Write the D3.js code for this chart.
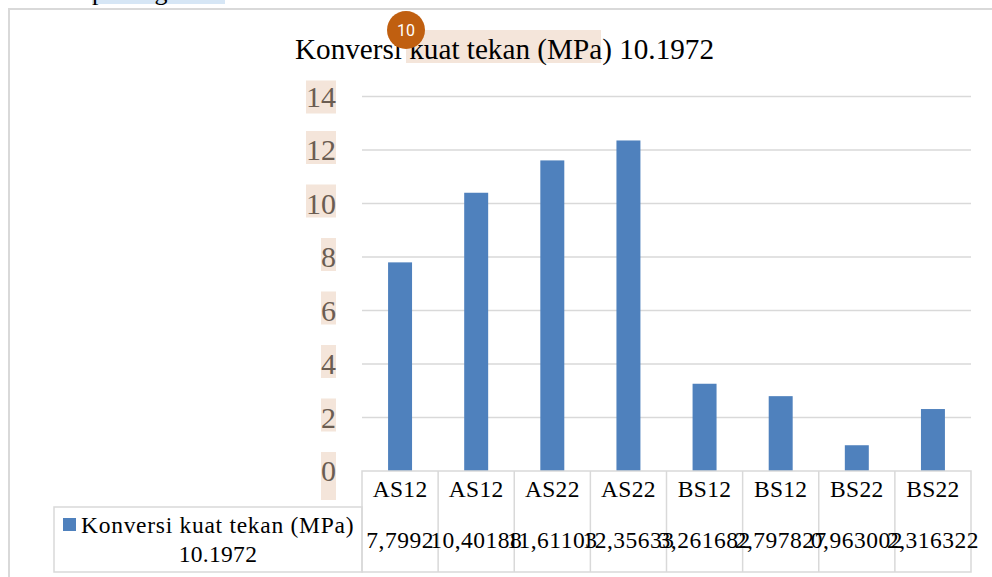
<!DOCTYPE html>
<html>
<head>
<meta charset="utf-8">
<script src="https://cdnjs.cloudflare.com/ajax/libs/d3/7.8.5/d3.min.js"></script>
<style>
	html, body { margin: 0; padding: 0; background: #fff; }
	svg { display: block; }
	text { font-family: "Liberation Serif", serif; }
</style>
</head>
<body>
<div id="chart"></div>
<script>
const categories = ["AS12", "AS12", "AS22", "AS22", "BS12", "BS12", "BS22", "BS22"];
const values = [7.7992, 10.40188, 11.61103, 12.35633, 3.261682, 2.797827, 0.963002, 2.316322];
const valueLabels = ["7,7992", "10,40188", "11,61103", "12,35633", "3,261682", "2,797827", "0,963002", "2,316322"];
const yTicks = [0, 2, 4, 6, 8, 10, 12, 14];
const title = "Konversi kuat tekan (MPa) 10.1972";
const legendLines = ["Konversi kuat tekan (MPa)", "10.1972"];

const width = 992, height = 577;
const gridColor = "#d9d9d9", barColor = "#4f81bd", markColor = "#f4e5da";

const svg = d3.select("#chart").append("svg")
	.attr("width", width).attr("height", height);

// cut off line of page text above the chart
svg.append("rect").attr("x", 92).attr("y", 0).attr("width", 133).attr("height", 4).attr("fill", "#d6e6f5");
svg.append("text").attr("x", 92).attr("y", 0)
	.style("font-size", "26px").style("word-spacing", "7px")
	.text("pada gambar");

// chart frame runs past the right and bottom of the screenshot
svg.append("rect").attr("x", 9).attr("y", 9).attr("width", 1000).attr("height", 600)
	.attr("fill", "#fff").attr("stroke", gridColor).attr("stroke-width", 2);

// Scales
const scaleX = d3.scaleBand(d3.range(categories.length), [362, 971])
	.paddingInner(0.685).paddingOuter(0.3425);
const scaleY = d3.scaleLinear([0, 14], [471, 96.5]);
const step = scaleX.step();

// Highlighted title
svg.append("rect").attr("x", 406).attr("y", 30).attr("width", 195).attr("height", 33).attr("fill", markColor);
svg.append("text").attr("x", 504.5).attr("y", 59)
	.attr("text-anchor", "middle").style("font-size", "29.2px").attr("fill", "#000")
	.text(title);

// Gridlines
svg.append("g").selectAll("line").data(yTicks.slice(1)).join("line")
	.attr("x1", 362).attr("x2", 971)
	.attr("y1", (d) => scaleY(d)).attr("y2", (d) => scaleY(d))
	.attr("stroke", gridColor).attr("stroke-width", 1.5);

// Y axis, the highlight boxes sit a bit above the digits except on the ends
const axisY = svg.append("g").attr("transform", "translate(336, 0)")
	.call(d3.axisLeft(scaleY).tickValues(yTicks).tickSize(0).tickPadding(0).tickFormat(d3.format("d")));
axisY.select(".domain").remove();
axisY.selectAll("text")
	.style("font-family", '"Liberation Serif", serif').style("font-size", "30px").attr("fill", "#6b5d52");
axisY.selectAll(".tick").each(function (d) {
	const box = this.querySelector("text").getBBox();
	d3.select(this).insert("rect", "text")
		.attr("x", box.x).attr("y", d === 14 ? -16.5 : -19.5)
		.attr("width", box.width).attr("height", d === 0 ? 48 : 33)
		.attr("fill", markColor);
});

// Bars
svg.append("g").selectAll("rect").data(values).join("rect")
	.attr("x", (d, i) => scaleX(i))
	.attr("y", (d) => scaleY(d))
	.attr("width", scaleX.bandwidth())
	.attr("height", (d) => scaleY(0) - scaleY(d))
	.attr("fill", barColor);

// Data table
const rowTop = 471, rowMid = 507, rowBottom = 572, legendLeft = 54;
const table = svg.append("g").attr("fill", "none").attr("stroke", gridColor).attr("stroke-width", 1.5);
table.append("rect").attr("x", 362).attr("y", rowTop).attr("width", 609).attr("height", rowBottom - rowTop);
table.append("rect").attr("x", legendLeft).attr("y", rowMid).attr("width", 362 - legendLeft).attr("height", rowBottom - rowMid);
table.selectAll("line.col").data(d3.range(1, categories.length)).join("line")
	.attr("x1", (i) => 362 + i * step).attr("x2", (i) => 362 + i * step)
	.attr("y1", rowTop).attr("y2", rowBottom);

const cellText = (data, y, spacing) => svg.append("g").selectAll("text").data(data).join("text")
	.attr("x", (d, i) => scaleX(i) + scaleX.bandwidth() / 2)
	.attr("y", y)
	.attr("text-anchor", "middle")
	.style("font-size", "23.5px").style("letter-spacing", spacing).attr("fill", "#000")
	.text((d) => d);
cellText(categories, 497, "0.3px");
cellText(valueLabels, 548, "0.5px");

// Legend cell
svg.append("rect").attr("x", 63).attr("y", 518).attr("width", 13).attr("height", 13).attr("fill", barColor);
svg.append("text").attr("x", 81).attr("y", 533)
	.style("font-size", "23.5px").style("letter-spacing", "0.72px").text(legendLines[0]);
svg.append("text").attr("x", 218).attr("y", 562).attr("text-anchor", "middle")
	.style("font-size", "23.5px").style("letter-spacing", "0.3px").text(legendLines[1]);

// Comment badge
svg.append("circle").attr("cx", 406).attr("cy", 30).attr("r", 19).attr("fill", "#c05f10");
svg.append("text").attr("x", 406).attr("y", 36).attr("text-anchor", "middle")
	.style("font-family", "Roboto, sans-serif").style("font-size", "16px").attr("fill", "#fff")
	.text("10");
</script>
</body>
</html>
